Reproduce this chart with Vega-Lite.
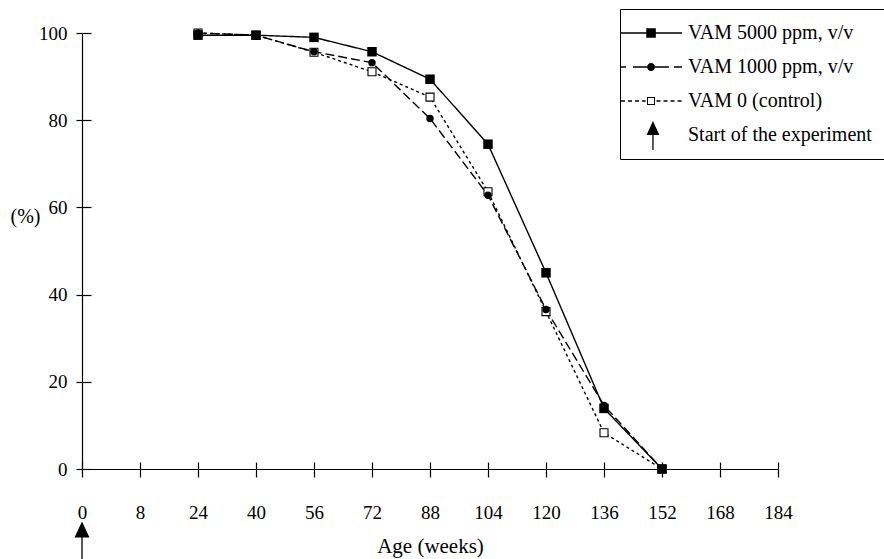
{
  "$schema": "https://vega.github.io/schema/vega-lite/v6.json",
  "width": 696,
  "height": 436,
  "autosize": {"type": "none"},
  "padding": {"left": 82, "top": 33, "right": 106, "bottom": 90},
  "background": "white",
  "config": {
    "view": {"stroke": null},
    "font": "Liberation Serif",
    "axis": {
      "grid": false,
      "domainColor": "black",
      "tickColor": "black",
      "labelColor": "black",
      "titleColor": "black",
      "labelFont": "Liberation Serif",
      "titleFont": "Liberation Serif",
      "titleFontWeight": "normal",
      "domainWidth": 1.2,
      "tickWidth": 1.2
    }
  },
  "resolve": {"axis": {"x": "independent", "y": "independent"}},
  "datasets": {
    "main": [
      {"series": "VAM 5000 ppm, v/v", "age": 24, "pct": 99.5},
      {"series": "VAM 5000 ppm, v/v", "age": 40, "pct": 99.5},
      {"series": "VAM 5000 ppm, v/v", "age": 56, "pct": 99.0},
      {"series": "VAM 5000 ppm, v/v", "age": 72, "pct": 95.7},
      {"series": "VAM 5000 ppm, v/v", "age": 88, "pct": 89.4},
      {"series": "VAM 5000 ppm, v/v", "age": 104, "pct": 74.5},
      {"series": "VAM 5000 ppm, v/v", "age": 120, "pct": 45.0},
      {"series": "VAM 5000 ppm, v/v", "age": 136, "pct": 13.9},
      {"series": "VAM 5000 ppm, v/v", "age": 152, "pct": 0},
      {"series": "VAM 1000 ppm, v/v", "age": 24, "pct": 100},
      {"series": "VAM 1000 ppm, v/v", "age": 40, "pct": 99.5},
      {"series": "VAM 1000 ppm, v/v", "age": 56, "pct": 95.7},
      {"series": "VAM 1000 ppm, v/v", "age": 72, "pct": 93.2},
      {"series": "VAM 1000 ppm, v/v", "age": 88, "pct": 80.4},
      {"series": "VAM 1000 ppm, v/v", "age": 104, "pct": 62.8},
      {"series": "VAM 1000 ppm, v/v", "age": 120, "pct": 36.6},
      {"series": "VAM 1000 ppm, v/v", "age": 136, "pct": 14.6},
      {"series": "VAM 1000 ppm, v/v", "age": 152, "pct": 0},
      {"series": "VAM 0 (control)", "age": 24, "pct": 100},
      {"series": "VAM 0 (control)", "age": 40, "pct": 99.5},
      {"series": "VAM 0 (control)", "age": 56, "pct": 95.6},
      {"series": "VAM 0 (control)", "age": 72, "pct": 91.1},
      {"series": "VAM 0 (control)", "age": 88, "pct": 85.3},
      {"series": "VAM 0 (control)", "age": 104, "pct": 63.6},
      {"series": "VAM 0 (control)", "age": 120, "pct": 36.1},
      {"series": "VAM 0 (control)", "age": 136, "pct": 8.3},
      {"series": "VAM 0 (control)", "age": 152, "pct": 0}
    ],
    "legendRows": [
      {"series": "VAM 5000 ppm, v/v", "age": 0, "pct": -200},
      {"series": "VAM 1000 ppm, v/v", "age": 0, "pct": -200},
      {"series": "VAM 0 (control)", "age": 0, "pct": -200},
      {"series": "Start of the experiment", "age": 0, "pct": -200}
    ],
    "arrowRow": [
      {"series": "Start of the experiment", "age": 0, "pct": -16.5}
    ]
  },
  "layer": [
    {
      "data": {"name": "main"},
      "mark": {"type": "line", "color": "black", "strokeWidth": 1.4},
      "encoding": {
        "x": {
          "field": "age",
          "type": "ordinal",
          "scale": {"type": "point", "domain": [0, 8, 24, 40, 56, 72, 88, 104, 120, 136, 152, 168, 184], "padding": 0},
          "axis": {
            "orient": "bottom",
            "title": "Age (weeks)",
            "labelAngle": 0,
            "labelFont": "Liberation Serif",
            "titleFont": "Liberation Serif",
            "labelFontSize": 19,
            "tickSize": 8,
            "labelPadding": 26,
            "titleFontSize": 21,
            "titleBaseline": "alphabetic",
            "titleX": 348,
            "titleY": 83,
            "titleAlign": "center"
          }
        },
        "y": {
          "field": "pct",
          "type": "quantitative",
          "scale": {"domain": [0, 100], "nice": false, "zero": false},
          "axis": {
            "orient": "left",
            "title": "(%)",
            "values": [0, 20, 40, 60, 80, 100],
            "labelFont": "Liberation Serif",
            "titleFont": "Liberation Serif",
            "labelFontSize": 19,
            "tickSize": 6,
            "labelPadding": 9,
            "titleFontSize": 20,
            "titleAngle": 0,
            "titleAlign": "center",
            "titleBaseline": "middle",
            "titleX": -57,
            "titleY": 183
          }
        },
        "detail": {"field": "series", "type": "nominal"},
        "strokeDash": {
          "field": "series",
          "type": "nominal",
          "scale": {"domain": ["VAM 5000 ppm, v/v", "VAM 1000 ppm, v/v", "VAM 0 (control)"], "range": [[1, 0], [9, 4], [3, 3]]},
          "legend": null
        }
      }
    },
    {
      "data": {"name": "main"},
      "transform": [{"filter": "datum.series === 'VAM 0 (control)'"}],
      "mark": {"type": "square", "fill": "white", "stroke": "black", "strokeWidth": 1.1, "size": 64, "opacity": 1, "filled": false},
      "encoding": {
        "x": {"field": "age", "type": "ordinal", "axis": null},
        "y": {"field": "pct", "type": "quantitative", "axis": null}
      }
    },
    {
      "data": {"name": "main"},
      "transform": [{"filter": "datum.series === 'VAM 1000 ppm, v/v'"}],
      "mark": {"type": "circle", "color": "black", "size": 55, "opacity": 1},
      "encoding": {
        "x": {"field": "age", "type": "ordinal", "axis": null},
        "y": {"field": "pct", "type": "quantitative", "axis": null}
      }
    },
    {
      "data": {"name": "main"},
      "transform": [{"filter": "datum.series === 'VAM 5000 ppm, v/v'"}],
      "mark": {"type": "square", "color": "black", "size": 90, "opacity": 1},
      "encoding": {
        "x": {"field": "age", "type": "ordinal", "axis": null},
        "y": {"field": "pct", "type": "quantitative", "axis": null}
      }
    },
    {
      "data": {"name": "arrowRow"},
      "mark": {"type": "point", "shape": "M0,-2L0.72,-0.45L-0.72,-0.45ZM0,-0.45V2", "size": 324, "filled": true, "fill": "black", "stroke": "black", "strokeWidth": 1.3, "opacity": 1, "clip": false},
      "encoding": {
        "x": {
          "field": "age",
          "type": "ordinal",
          "axis": {"orient": "bottom", "labels": false, "domain": false, "title": null, "ticks": true, "tickSize": -7, "tickColor": "black", "tickWidth": 1.2}
        },
        "y": {
          "field": "pct",
          "type": "quantitative",
          "axis": {"orient": "left", "values": [0, 20, 40, 60, 80, 100], "labels": false, "domain": false, "title": null, "ticks": true, "tickSize": -9, "tickColor": "black", "tickWidth": 1.2}
        }
      }
    },
    {
      "data": {"name": "legendRows"},
      "mark": {"type": "point", "filled": true, "color": "black", "size": 1024, "strokeWidth": 0, "opacity": 1, "clip": true},
      "encoding": {
        "x": {"field": "age", "type": "ordinal", "axis": null},
        "y": {"field": "pct", "type": "quantitative", "axis": null},
        "shape": {
          "field": "series",
          "type": "nominal",
          "scale": {
            "domain": ["VAM 5000 ppm, v/v", "VAM 1000 ppm, v/v", "VAM 0 (control)", "Start of the experiment"],
            "range": [
              "M-1.44,-0.04H2.375V0.04H-1.44ZM0.14,-0.3H0.74V0.3H0.14Z",
              "M-1.44,-0.04H-1.125V0.04H-1.44ZM-0.69,-0.04H0.2V0.04H-0.69ZM0.19,0A0.25,0.25 0 1,0 0.69,0A0.25,0.25 0 1,0 0.19,0ZM0.68,-0.04H1.56V0.04H0.68ZM1.875,-0.04H2.375V0.04H1.875Z",
              "M-1.44,-0.04H-1.19V0.04H-1.44ZM-1.0,-0.04H-0.75V0.04H-1.0ZM-0.56,-0.04H-0.31V0.04H-0.56ZM-0.12,-0.04H0.1V0.04H-0.12ZM0.19,-0.25H0.69V0.25H0.19ZM0.25,-0.19V0.19H0.63V-0.19ZM0.78,-0.04H1.03V0.04H0.78ZM1.22,-0.04H1.47V0.04H1.22ZM1.66,-0.04H1.91V0.04H1.66ZM2.1,-0.04H2.35V0.04H2.1Z",
              "M0.56,-0.875L0.96,0L0.16,0ZM0.52,-0.1H0.6V0.94H0.52Z"
            ]
          },
          "legend": {
            "title": "\u00a0",
            "titleOrient": "right",
            "titlePadding": 20,
            "titleFontSize": 10,
            "orient": "none",
            "legendX": 538,
            "legendY": -24,
            "labelFont": "Liberation Serif",
            "labelFontSize": 20,
            "labelColor": "black",
            "labelLimit": 400,
            "symbolSize": 1024,
            "symbolFillColor": "black",
            "symbolStrokeWidth": 0,
            "symbolOffset": 0,
            "labelOffset": 28,
            "rowPadding": 8,
            "padding": 8,
            "strokeColor": "black",
            "fillColor": "white"
          }
        }
      }
    }
  ]
}
